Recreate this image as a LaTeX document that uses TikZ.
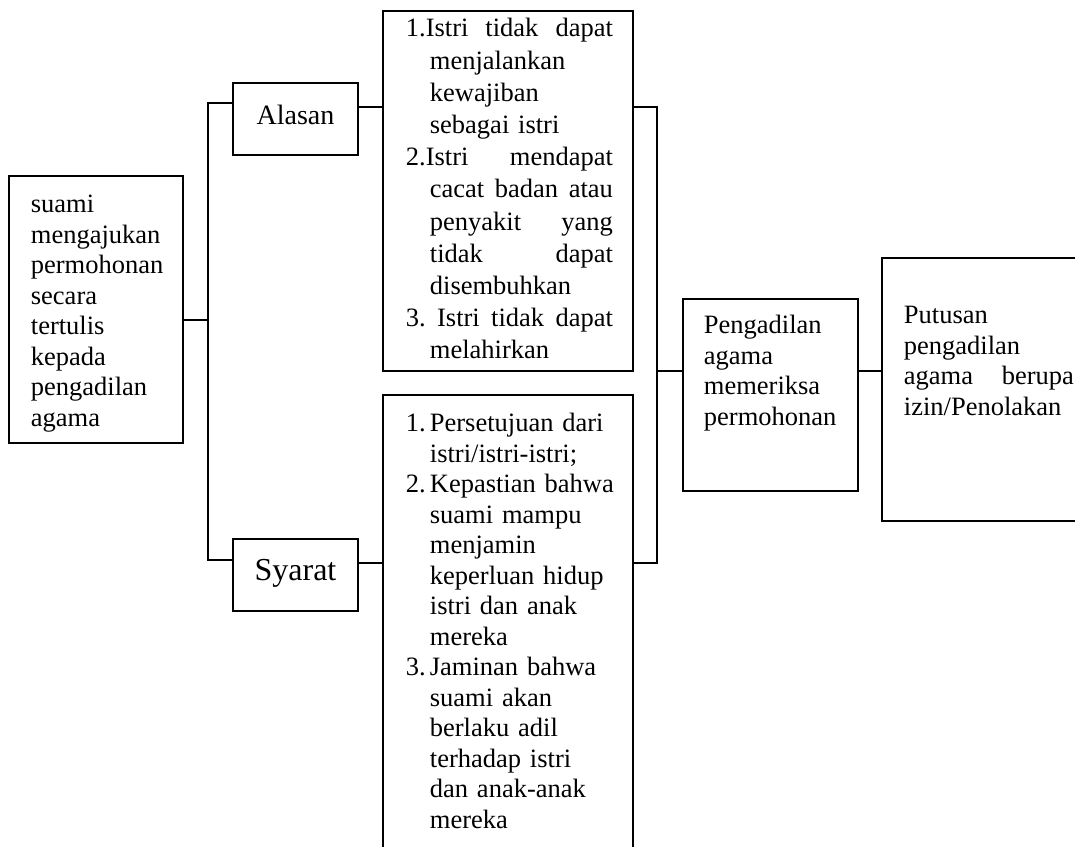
\documentclass[tikz,border=0pt]{standalone}
\usepackage{fontspec}
\setmainfont{Liberation Serif}
\frenchspacing
\newcommand\ftxt{\fontsize{26.5}{30.5}\selectfont}
\newcommand\falist{\fontsize{26.5}{32.2}\selectfont}
\newcommand\falasan{\fontsize{28}{32}\selectfont}
\newcommand\fsyarat{\fontsize{32}{36}\selectfont}
\newcommand\jfill[2]{\leavevmode\hbox to #1{#2}}
\begin{document}
\begin{tikzpicture}[x=1pt,y=-1pt,line width=1.8pt,
  box/.style={draw,rectangle,inner sep=0pt,minimum width=#1},
  txt/.style={anchor=north west,inner sep=0pt,align=left,text width=#1},
  hi/.style={minimum height=#1}]
\useasboundingbox (0,0) rectangle (1075,846);
\clip (0,0) rectangle (1075,846);

% boxes
\node[box=174pt,hi=267pt] (suami) at (96,309.5) {};
\node[box=125pt,hi=72pt] (alasan) at (295.5,119) {};
\node[box=125pt,hi=72pt] (syarat) at (295.5,575) {};
\node[box=250pt,hi=360pt] (alist) at (508,191) {};
\node[box=250pt,hi=465pt] (slist) at (508,627.5) {};
\node[box=175pt,hi=192pt] (peng) at (770.5,395) {};
\node[box=208pt,hi=263pt] (putusan) at (986,389.5) {};

% texts
\node[txt=160pt,font=\ftxt] (suamiT) at (30,190.65)
  {\strut suami\\mengajukan\\permohonan\\secara\\tertulis\\kepada\\pengadilan\\agama};
\node[anchor=base,inner sep=0pt,font=\falasan] (alasanT) at (295.5,124) {Alasan};
\node[anchor=base,inner sep=0pt,font=\fsyarat] (syaratT) at (295.5,580) {Syarat};
\node[txt=215pt,font=\falist] (alistT) at (405,13.46)
  {\strut\jfill{207pt}{1.Istri\hfill tidak\hfill dapat}\\
   \hspace*{24pt}menjalankan\\
   \hspace*{24pt}kewajiban\\
   \hspace*{24pt}sebagai istri\\
   \jfill{207pt}{2.Istri\hfill mendapat}\\
   \hspace*{24pt}\jfill{183pt}{cacat\hfill badan\hfill atau}\\
   \hspace*{24pt}\jfill{183pt}{penyakit\hfill yang}\\
   \hspace*{24pt}\jfill{183pt}{tidak\hfill dapat}\\
   \hspace*{24pt}disembuhkan\\
   \jfill{207pt}{3.\hfill Istri\hfill tidak\hfill dapat}\\
   \hspace*{24pt}melahirkan};
\node[txt=215pt,font=\ftxt] (slistT) at (405,409.65)
  {\strut\makebox[24pt][l]{1.}Persetujuan dari\\
   \hspace*{24pt}istri/istri-istri;\\
   \makebox[24pt][l]{2.}Kepastian bahwa\\
   \hspace*{24pt}suami mampu\\
   \hspace*{24pt}menjamin\\
   \hspace*{24pt}keperluan hidup\\
   \hspace*{24pt}istri dan anak\\
   \hspace*{24pt}mereka\\
   \makebox[24pt][l]{3.}Jaminan bahwa\\
   \hspace*{24pt}suami akan\\
   \hspace*{24pt}berlaku adil\\
   \hspace*{24pt}terhadap istri\\
   \hspace*{24pt}dan anak-anak\\
   \hspace*{24pt}mereka};
\node[txt=160pt,font=\ftxt] (pengT) at (703,311.65)
  {\strut Pengadilan\\agama\\memeriksa\\permohonan};
\node[txt=172pt,font=\ftxt] (putT) at (903,301.65)
  {\strut Putusan\\pengadilan\\\jfill{170pt}{agama\hfill berupa}\\izin/Penolakan};

% junction coordinates
\coordinate (spL) at (208,320);
\coordinate (aL) at (208,103);
\coordinate (sL) at (208,560);
\coordinate (aM) at (358,107);
\coordinate (sM) at (358,563);
\coordinate (aR) at (657,107);
\coordinate (sR) at (657,563);
\coordinate (pL) at (657,371);

% connectors
\draw (suami.east |- spL) -- (spL);
\draw (alasan.west |- aL) -- (aL) -- (sL) -- (syarat.west |- sL);
\draw (alasan.east |- aM) -- (alist.west |- aM);
\draw (syarat.east |- sM) -- (slist.west |- sM);
\draw (alist.east |- aR) -- (aR) -- (sR) -- (slist.east |- sR);
\draw (pL) -- (peng.west |- pL);
\draw (peng.east |- pL) -- (putusan.west |- pL);
\end{tikzpicture}
\end{document}
